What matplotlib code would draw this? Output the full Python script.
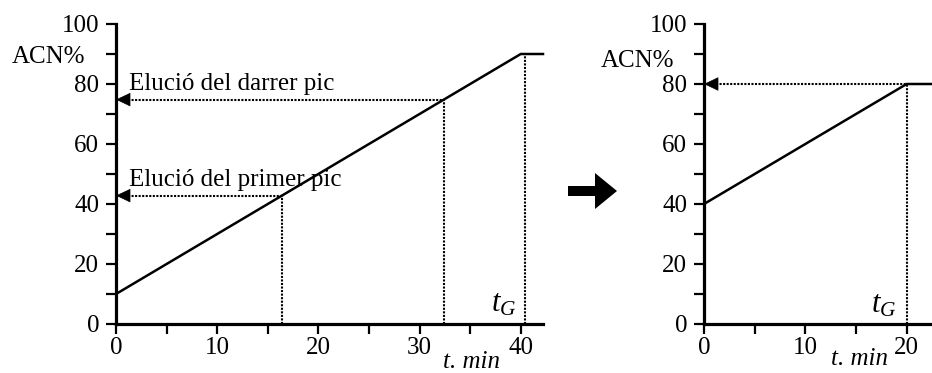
import matplotlib
matplotlib.use("Agg")
import matplotlib.pyplot as plt
from matplotlib.patches import FancyArrow
from matplotlib.ticker import MultipleLocator

plt.rcParams["font.family"] = ["Liberation Serif", "DejaVu Serif"]
plt.rcParams["mathtext.fontset"] = "custom"
plt.rcParams["mathtext.rm"] = "Liberation Serif"
plt.rcParams["mathtext.it"] = "Liberation Serif:italic"

# Original gradient: 10 % -> 90 % ACN in 40 min, then isocratic hold
grad1_t = [0, 40, 42.2]
grad1_acn = [10, 90, 90]
tG1 = 40.4
# Retention times of first and last peaks (min) and ACN % at elution
peak_t = [16.4, 32.4]
peak_acn = [42.8, 74.8]
peak_labels = ["Elució del primer pic", "Elució del darrer pic"]

# Optimised gradient: 40 % -> 80 % ACN in 20 min
grad2_t = [0, 20, 22.5]
grad2_acn = [40, 80, 80]
tG2 = 20

FS = 18
LW_AX = 2.3
DOT = dict(color="black", lw=1.5, linestyle=(0, (1, 0.7)), clip_on=False)

fig = plt.figure(figsize=(9.32, 3.73), dpi=100)
ax1 = fig.add_axes([116 / 932, 49 / 373, 427 / 932, 300 / 373])
ax2 = fig.add_axes([704 / 932, 49 / 373, 228 / 932, 300 / 373])


def style_axes(ax, xmax, xmaj):
    ax.set_xlim(0, xmax)
    ax.set_ylim(0, 100)
    for s in ("top", "right"):
        ax.spines[s].set_visible(False)
    for s in ("left", "bottom"):
        ax.spines[s].set_linewidth(LW_AX)
    ax.xaxis.set_major_locator(MultipleLocator(xmaj))
    ax.xaxis.set_minor_locator(MultipleLocator(xmaj / 2))
    ax.yaxis.set_major_locator(MultipleLocator(20))
    ax.yaxis.set_minor_locator(MultipleLocator(10))
    ax.tick_params(axis="both", which="both", direction="out", width=1.6,
                   length=7, labelsize=FS)
    ax.tick_params(axis="x", which="major", pad=2.5)
    ax.tick_params(axis="y", which="major", pad=5)
    ax.patch.set_visible(False)


def left_head(ax, y, length):
    ax.annotate("", xy=(0, y), xytext=(length, y),
                arrowprops=dict(arrowstyle="-|>,head_length=0.95,head_width=0.45",
                                color="black", lw=0.5, shrinkA=0, shrinkB=0,
                                mutation_scale=10),
                annotation_clip=False)


style_axes(ax1, 42.2, 10)
style_axes(ax2, 22.5, 10)

# Left panel
ax1.plot(grad1_t, grad1_acn, color="black", lw=1.8, clip_on=False,
         solid_joinstyle="miter")
for t, c, lab in zip(peak_t, peak_acn, peak_labels):
    ax1.plot([t, t], [0, c], **DOT)
    ax1.plot([1.2, t], [c, c], **DOT)
    left_head(ax1, c, 1.3)
    ax1.text(1.3, c + 3.3, lab, fontsize=FS, ha="left", va="baseline")
ax1.plot([tG1, tG1], [0, grad1_acn[1]], **DOT)
ax1.text(39.6, 4, r"$t_G$", fontsize=22, ha="right", va="baseline")
ax1.text(-3.0, 87, "ACN%", fontsize=FS, ha="right", va="baseline")
ax1.text(35.1, -14.6, "t. min", fontsize=FS, style="italic",
         ha="center", va="baseline")

# Right panel
ax2.plot(grad2_t, grad2_acn, color="black", lw=1.8, clip_on=False,
         solid_joinstyle="miter")
ax2.plot([tG2, tG2], [0, grad2_acn[1]], **DOT)
ax2.plot([1.2, tG2], [grad2_acn[1], grad2_acn[1]], **DOT)
left_head(ax2, grad2_acn[1], 1.3)
ax2.text(19.0, 3.7, r"$t_G$", fontsize=22, ha="right", va="baseline")
ax2.text(-2.9, 85.7, "ACN%", fontsize=FS, ha="right", va="baseline")
ax2.text(15.3, -13.7, "t. min", fontsize=FS, style="italic",
         ha="center", va="baseline")

# Block arrow between the two panels
fig.add_artist(FancyArrow(5.68, 1.82, 0.49, 0, width=0.10, head_width=0.36,
                          head_length=0.22, length_includes_head=True,
                          color="black", lw=0, transform=fig.dpi_scale_trans))

fig.savefig("out.png", dpi=100)
